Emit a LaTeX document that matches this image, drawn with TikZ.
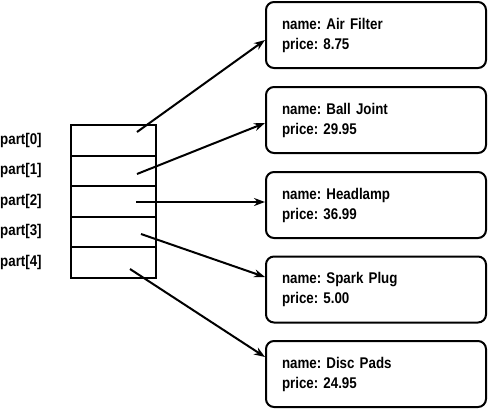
\documentclass[tikz,border=0pt]{standalone}
\usepackage{fontspec}
\setmainfont{Liberation Sans}[FakeStretch=0.86]
\usetikzlibrary{arrows.meta}
\begin{document}
\begin{tikzpicture}[x=1pt,y=-1pt,
  cell/.style={draw,line width=2pt,minimum width=85pt,minimum height=30.5pt,inner sep=0pt,outer sep=0pt},
  lbl/.style={anchor=west,inner sep=0pt,font=\fontsize{15.5}{17}\selectfont\bfseries\frenchspacing},
  rec/.style={draw,line width=2pt,rounded corners=8pt,minimum width=220pt,minimum height=66pt,
    text width=188pt,align=left,inner xsep=16pt,inner ysep=0pt,font=\fontsize{15.5}{20}\selectfont\bfseries\frenchspacing},
  ptr/.style={line width=2pt,-{Stealth[length=11pt,width=8pt]}}]
\useasboundingbox (0,0) rectangle (488,408);
\node[cell] (c0) at (113.5,140.25) {};
\node[cell] (c1) at (113.5,170.75) {};
\node[cell] (c2) at (113.5,201.25) {};
\node[cell] (c3) at (113.5,231.75) {};
\node[cell] (c4) at (113.5,262.25) {};
\node[lbl] (l0) at (0,140) {part[0]};
\node[lbl] (l1) at (0,170.5) {part[1]};
\node[lbl] (l2) at (0,201) {part[2]};
\node[lbl] (l3) at (0,231.5) {part[3]};
\node[lbl] (l4) at (0,262) {part[4]};
\node[rec] (b0) at (376,35) {name: Air Filter\\price: 8.75};
\node[rec] (b1) at (376,120) {name: Ball Joint\\price: 29.95};
\node[rec] (b2) at (376,205) {name: Headlamp\\price: 36.99};
\node[rec] (b3) at (376,289.5) {name: Spark Plug\\price: 5.00};
\node[rec] (b4) at (376,374) {name: Disc Pads\\price: 24.95};
\coordinate (s0) at (137,132);
\coordinate (s1) at (137,174);
\coordinate (s2) at (136,202);
\coordinate (s3) at (141,234);
\coordinate (s4) at (130,269);
\draw[ptr] (s0) -- ([yshift=-5pt]b0.west);
\draw[ptr] (s1) -- ([yshift=-3pt]b1.west);
\draw[ptr] (s2) -- ([yshift=3pt]b2.west);
\draw[ptr] (s3) -- ([yshift=12.5pt]b3.west);
\draw[ptr] (s4) -- ([yshift=17pt]b4.west);
\end{tikzpicture}
\end{document}
